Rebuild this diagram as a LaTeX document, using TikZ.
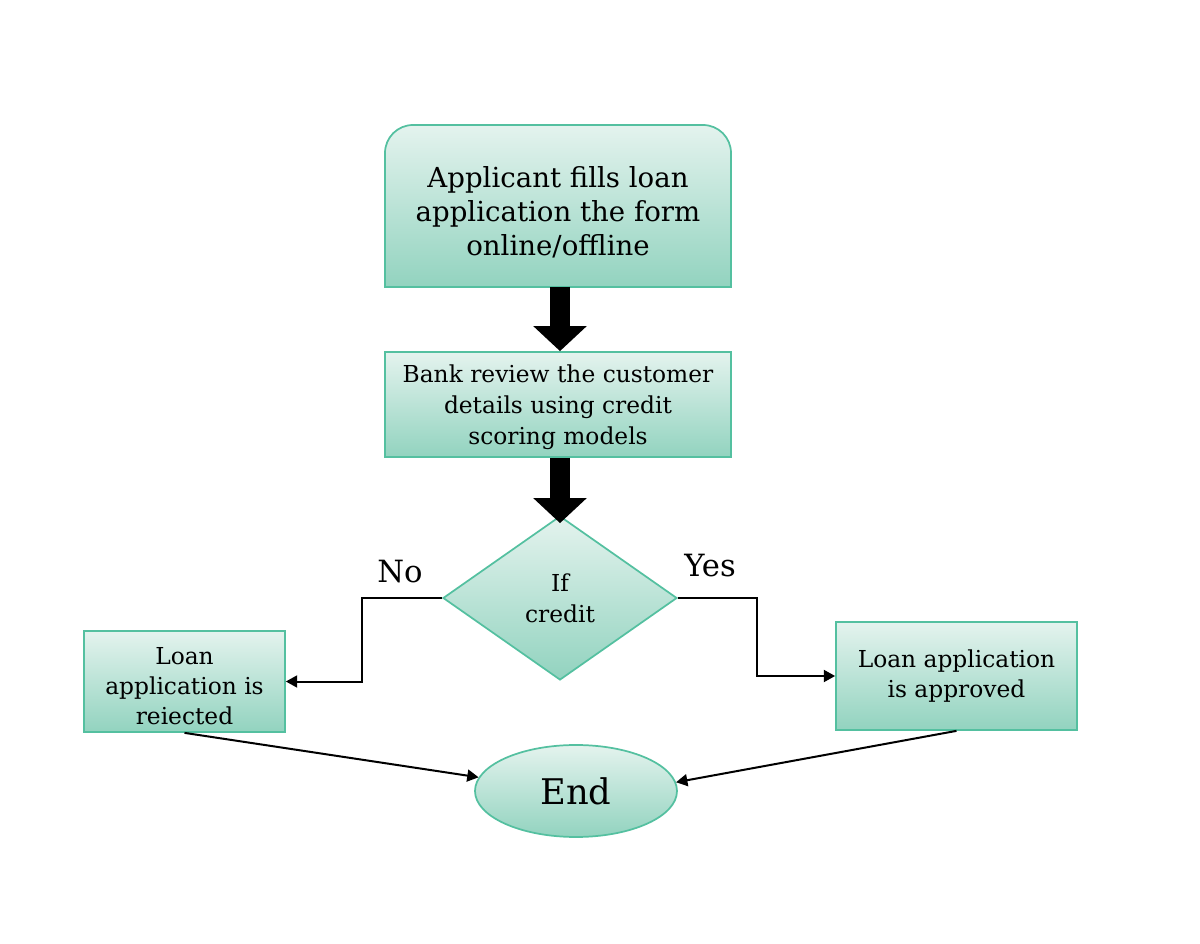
\documentclass[tikz,border=0pt]{standalone}
\usepackage{fontspec}
\setmainfont{DejaVu Serif}
\usetikzlibrary{arrows.meta}
\usetikzlibrary{shapes.geometric}
\definecolor{tealline}{RGB}{84,192,160}
\definecolor{tealtop}{RGB}{228,243,238}
\definecolor{tealbot}{RGB}{146,211,191}

\begin{document}
\begin{tikzpicture}[x=0.75pt,y=0.75pt,yscale=-1,xscale=1,
  procbox/.style={draw=tealline,line width=1.3pt,top color=tealtop,bottom color=tealbot,align=center,inner sep=0pt},
  boxtext/.style={align=center,inner sep=0pt},
  bigarrow/.style={line width=15pt,-{Triangle[length=18.75pt,width=39pt]}},
  flowline/.style={line width=1.5pt,-{Triangle[length=8.5pt,width=9pt]}},
  branchlabel/.style={inner sep=0.75pt,font=\fontsize{23}{27}\selectfont}]
\useasboundingbox (0,0) rectangle (1200,944);

%Shape: Round Same Side Corner Rectangle
\draw [draw=tealline,line width=1.3pt,top color=tealtop,bottom color=tealbot] (385,287) -- (385,153) arc[start angle=180,end angle=270,radius=28] -- (703,125) arc[start angle=270,end angle=360,radius=28] -- (731,287) -- cycle;
\coordinate (fillbase) at (558,287);
% Text Node
\node (fill) [boxtext,font=\fontsize{20.7}{25.5}\selectfont] at (558,212) {Applicant fills loan\\application the form\\online/offline};
%Shape: Rectangle
\node (review) [procbox,minimum width=259.5pt,minimum height=78.75pt,font=\fontsize{17.5}{23}\selectfont] at (558,404.5) {};
\node (reviewtext) [boxtext,font=\fontsize{17.5}{23}\selectfont] at ([yshift=2pt]review.center) {Bank review the customer\\details using credit\\scoring models};
%Shape: Diamond
\node (credit) [procbox,diamond,minimum width=175.5pt,minimum height=123pt,font=\fontsize{17.5}{23}\selectfont] at (560,598) {If\\credit};
%Shape: Rectangle
\node (reject) [procbox,minimum width=150.75pt,minimum height=75.75pt] at (184.5,681.5) {};
\node (rejecttext) [boxtext,font=\fontsize{17.5}{22.5}\selectfont] at ([yshift=3.75pt]reject.center) {Loan\\application is\\reiected};
%Shape: Rectangle
\node (approve) [procbox,minimum width=180.75pt,minimum height=81pt,font=\fontsize{17.5}{23}\selectfont] at (956.5,676) {Loan application\\is approved};
%Shape: Ellipse
\node (end) [procbox,ellipse,minimum width=151.5pt,minimum height=69pt,font=\fontsize{26.5}{30}\selectfont] at (576,791) {End};

% Text Node
\node (no) [branchlabel] at (400,572) {No};
% Text Node
\node (yes) [branchlabel] at (710,566) {Yes};

%Block Arrows
\draw [bigarrow] (fillbase -| credit.north) -- (review.north -| credit.north);
\draw [bigarrow] (review.south -| credit.north) -- ([yshift=6pt]credit.north);

%Connectors
\draw [flowline] (credit.west) -- ++(-80,0) |- (reject.east);
\draw [flowline] (credit.east) -- ++(79,0) |- (approve.west);
\draw [flowline] (reject.south) -- (end.172);
\draw [flowline] (approve.south) -- (end.5);

\end{tikzpicture}
\end{document}
